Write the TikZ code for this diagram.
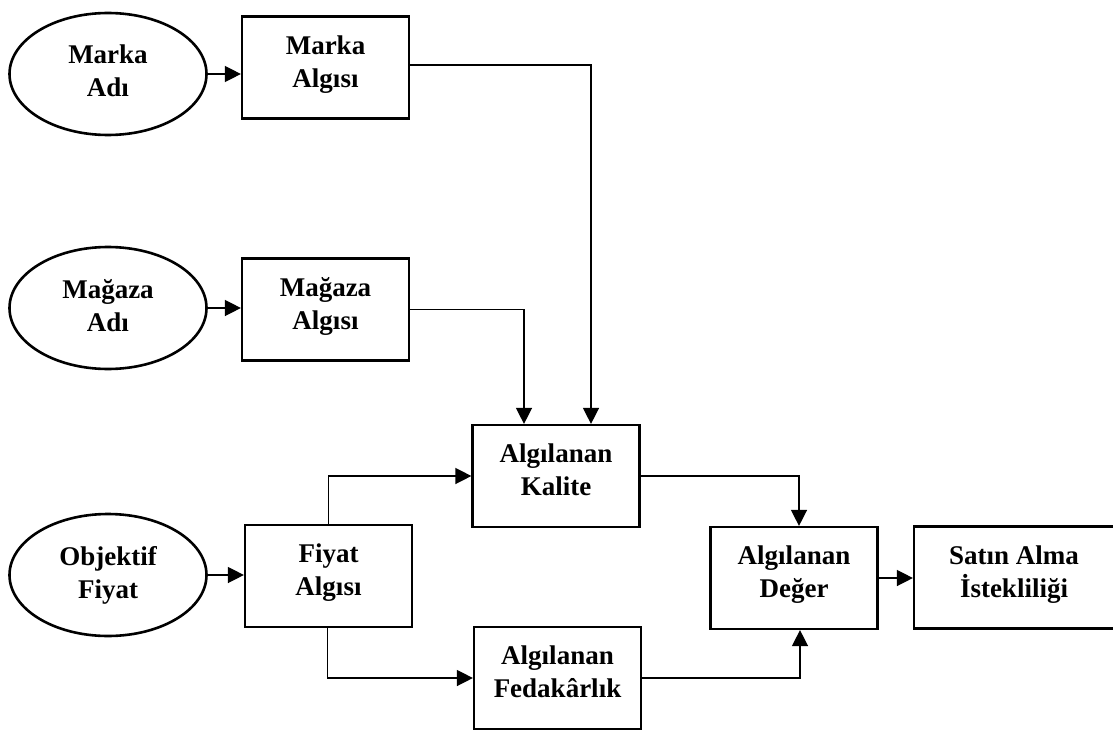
\documentclass[tikz,border=0pt]{standalone}
\usepackage{fontspec}
\setmainfont{Liberation Serif}
\usetikzlibrary{arrows.meta,shapes.geometric}
\begin{document}
\begin{tikzpicture}[x=1pt,y=-1pt,
  box/.style={draw,line width=2.2pt,minimum width=167pt,minimum height=102pt,inner sep=0pt},
  widebox/.style={box,minimum width=200pt},
  oval/.style={draw,ellipse,line width=2.6pt,minimum width=197pt,minimum height=122pt,inner sep=0pt},
  lbl/.style={align=center,inner sep=0pt,font=\fontsize{27}{33}\selectfont\bfseries},
  boxlbl/.style={lbl,yshift=3pt},
  conn/.style={line width=1.4pt,-{Triangle[length=16pt,width=16pt]}}]
\useasboundingbox (0,0) rectangle (1113,733);

% source constructs (ellipses)
\node[oval] (e1) at (108,74) {};
\node[oval] (e2) at (108,308) {};
\node[oval] (e3) at (108,575) {};
\node[lbl] (e1t) at (e1) {Marka\\Adı\vphantom{g}};
\node[lbl] (e2t) at (e2) {Mağaza\\Adı\vphantom{g}};
\node[lbl] (e3t) at (e3) {Objektif\\Fiyat\vphantom{g}};

% perception boxes
\node[box] (b1) at (325.5,67.5) {};
\node[box] (b2) at (325.5,309.5) {};
\node[box] (b3) at (328.5,576) {};
\node[box] (q)  at (556,476) {};
\node[box] (f)  at (557.5,678) {};
\node[box] (d)  at (794,578) {};
\node[widebox] (s) at (1014,577.5) {};

\node[boxlbl] (b1t) at (b1) {Marka\\Algısı\vphantom{g}};
\node[boxlbl] (b2t) at (b2) {Mağaza\\Algısı\vphantom{g}};
\node[boxlbl] (b3t) at (b3) {Fiyat\\Algısı\vphantom{g}};
\node[boxlbl] (qt)  at (q)  {Algılanan\\Kalite\vphantom{g}};
\node[boxlbl] (ft)  at (f)  {Algılanan\\Fedakârlık\vphantom{g}};
\node[boxlbl] (dt)  at (d)  {Algılanan\\Değer\vphantom{g}};
\node[boxlbl] (st)  at (s)  {Satın Alma\\İstekliliği\vphantom{g}};

% connectors
\draw[conn] (e1.east) -- (e1.east -| b1.west);
\draw[conn] (e2.east) -- (e2.east -| b2.west);
\draw[conn] (e3.east) -- (e3.east -| b3.west);
\draw[conn] ([yshift=2.5pt]b1.east) -| ([xshift=35pt]q.north);
\draw[conn] (b2.east) -| ([xshift=-32pt]q.north);
\draw[conn] (b3.north) |- (q.west);
\draw[conn] ([xshift=-1pt]b3.south) |- (f.west);
\draw[conn] (q.east) -| ([xshift=5pt]d.north);
\draw[conn] (f.east) -| ([xshift=6pt]d.south);
\draw[conn] (d.east) -- (d.east -| s.west);
\end{tikzpicture}
\end{document}
